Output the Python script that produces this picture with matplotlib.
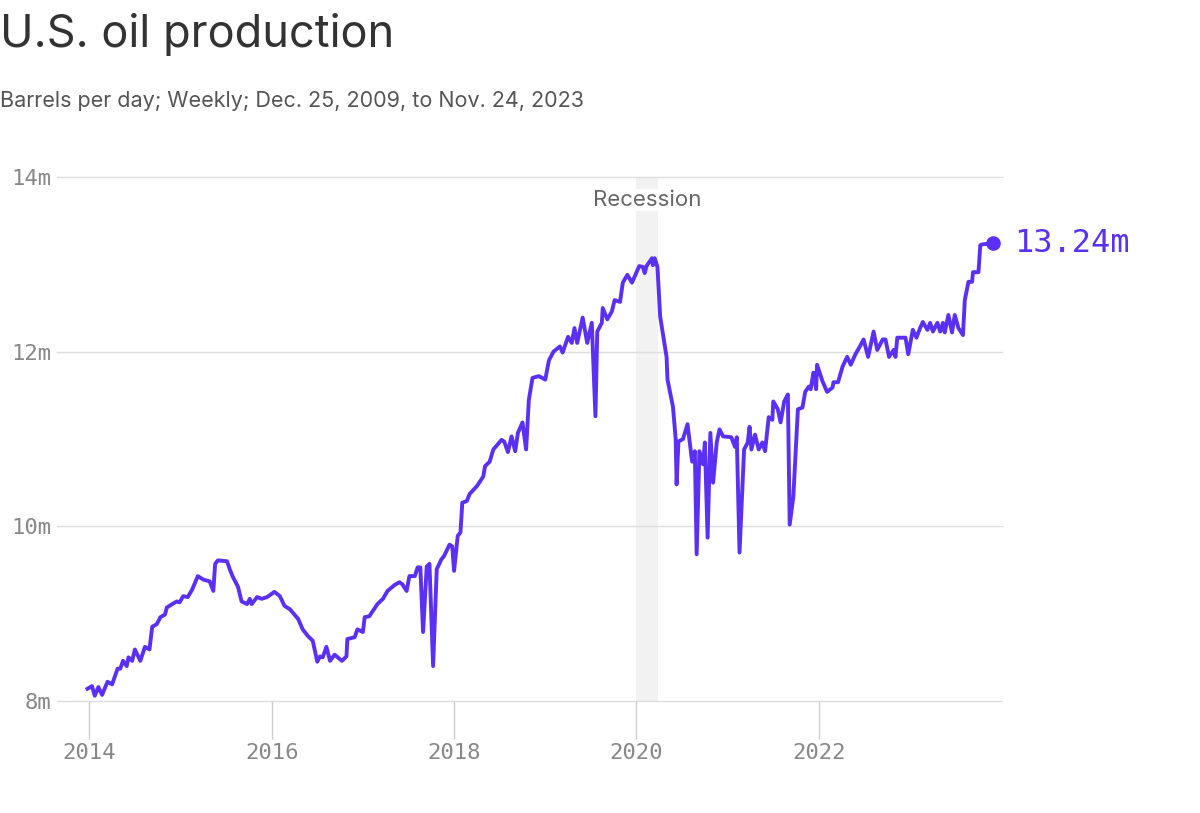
import matplotlib.pyplot as plt

# weekly U.S. crude production, millions of barrels per day
years = [
    2013.98, 2014.03, 2014.06, 2014.10, 2014.14, 2014.20, 2014.25, 2014.31, 2014.34, 2014.37,
    2014.41, 2014.43, 2014.47, 2014.50, 2014.56, 2014.61, 2014.66, 2014.69, 2014.74, 2014.78,
    2014.83, 2014.85, 2014.91, 2014.96, 2014.99, 2015.03, 2015.08, 2015.13, 2015.19, 2015.25,
    2015.32, 2015.36, 2015.38, 2015.41, 2015.51, 2015.54, 2015.57, 2015.63, 2015.67, 2015.73,
    2015.76, 2015.78, 2015.84, 2015.89, 2015.95, 2016.03, 2016.09, 2016.14, 2016.20, 2016.29,
    2016.34, 2016.40, 2016.45, 2016.50, 2016.53, 2016.56, 2016.60, 2016.64, 2016.69, 2016.77,
    2016.82, 2016.83, 2016.91, 2016.94, 2017.00, 2017.02, 2017.07, 2017.16, 2017.22, 2017.27,
    2017.35, 2017.40, 2017.43, 2017.48, 2017.51, 2017.57, 2017.60, 2017.63, 2017.66, 2017.70,
    2017.73, 2017.77, 2017.81, 2017.86, 2017.89, 2017.95, 2017.98, 2018.00, 2018.04, 2018.07,
    2018.09, 2018.14, 2018.17, 2018.25, 2018.32, 2018.34, 2018.39, 2018.43, 2018.48, 2018.52,
    2018.55, 2018.59, 2018.63, 2018.67, 2018.70, 2018.75, 2018.79, 2018.82, 2018.86, 2018.93,
    2019.00, 2019.04, 2019.09, 2019.16, 2019.19, 2019.25, 2019.29, 2019.32, 2019.35, 2019.41,
    2019.46, 2019.51, 2019.55, 2019.57, 2019.62, 2019.63, 2019.68, 2019.73, 2019.76, 2019.82,
    2019.85, 2019.90, 2019.95, 2019.98, 2020.03, 2020.07, 2020.09, 2020.11, 2020.17, 2020.18,
    2020.20, 2020.23, 2020.26, 2020.33, 2020.34, 2020.40, 2020.43, 2020.44, 2020.46, 2020.51,
    2020.56, 2020.61, 2020.64, 2020.66, 2020.69, 2020.73, 2020.75, 2020.78, 2020.81, 2020.84,
    2020.88, 2020.91, 2020.95, 2021.04, 2021.08, 2021.10, 2021.13, 2021.18, 2021.22, 2021.24,
    2021.26, 2021.30, 2021.34, 2021.38, 2021.41, 2021.45, 2021.49, 2021.50, 2021.55, 2021.58,
    2021.62, 2021.66, 2021.68, 2021.72, 2021.77, 2021.82, 2021.85, 2021.89, 2021.91, 2021.94,
    2021.97, 2021.98, 2022.04, 2022.09, 2022.15, 2022.16, 2022.21, 2022.26, 2022.31, 2022.35,
    2022.40, 2022.45, 2022.49, 2022.54, 2022.60, 2022.64, 2022.70, 2022.73, 2022.77, 2022.82,
    2022.84, 2022.86, 2022.95, 2022.98, 2023.03, 2023.07, 2023.11, 2023.14, 2023.19, 2023.22,
    2023.25, 2023.30, 2023.33, 2023.36, 2023.38, 2023.42, 2023.46, 2023.49, 2023.53, 2023.58,
    2023.60, 2023.64, 2023.68, 2023.69, 2023.75, 2023.77, 2023.80, 2023.91,
]
production = [
    8.14, 8.17, 8.06, 8.16, 8.07, 8.22, 8.19, 8.37, 8.37, 8.46,
    8.40, 8.50, 8.46, 8.59, 8.46, 8.62, 8.59, 8.85, 8.88, 8.96,
    8.99, 9.07, 9.11, 9.14, 9.13, 9.20, 9.19, 9.28, 9.43, 9.39,
    9.37, 9.26, 9.57, 9.61, 9.60, 9.51, 9.43, 9.31, 9.14, 9.11,
    9.17, 9.11, 9.19, 9.17, 9.19, 9.25, 9.20, 9.09, 9.05, 8.94,
    8.82, 8.74, 8.69, 8.45, 8.51, 8.50, 8.62, 8.46, 8.53, 8.46,
    8.51, 8.71, 8.73, 8.82, 8.79, 8.96, 8.97, 9.11, 9.17, 9.26,
    9.33, 9.36, 9.34, 9.26, 9.43, 9.43, 9.53, 9.53, 8.79, 9.54,
    9.57, 8.40, 9.51, 9.62, 9.66, 9.79, 9.77, 9.49, 9.89, 9.93,
    10.27, 10.29, 10.37, 10.46, 10.57, 10.69, 10.74, 10.88, 10.94, 10.99,
    10.97, 10.85, 11.03, 10.86, 11.07, 11.19, 10.88, 11.45, 11.70, 11.72,
    11.68, 11.90, 12.00, 12.06, 11.99, 12.17, 12.10, 12.27, 12.10, 12.39,
    12.10, 12.33, 11.26, 12.23, 12.33, 12.50, 12.37, 12.46, 12.59, 12.57,
    12.79, 12.88, 12.79, 12.86, 12.98, 12.97, 12.90, 12.98, 13.07, 12.99,
    13.07, 12.97, 12.40, 11.94, 11.68, 11.37, 11.00, 10.48, 10.97, 11.00,
    11.17, 10.74, 10.86, 9.68, 10.86, 10.71, 10.96, 9.87, 11.07, 10.50,
    10.96, 11.11, 11.03, 11.02, 10.91, 11.02, 9.70, 10.88, 10.96, 11.14,
    10.88, 11.05, 10.88, 10.96, 10.86, 11.25, 11.22, 11.43, 11.34, 11.19,
    11.43, 11.51, 10.02, 10.34, 11.34, 11.36, 11.54, 11.60, 11.57, 11.76,
    11.57, 11.85, 11.66, 11.54, 11.59, 11.65, 11.65, 11.83, 11.94, 11.85,
    11.97, 12.06, 12.14, 11.94, 12.23, 12.02, 12.14, 12.14, 11.94, 12.02,
    11.94, 12.16, 12.16, 11.97, 12.25, 12.16, 12.27, 12.34, 12.25, 12.33,
    12.23, 12.33, 12.23, 12.33, 12.22, 12.42, 12.22, 12.42, 12.27, 12.19,
    12.59, 12.80, 12.80, 12.91, 12.91, 13.22, 13.23, 13.24,
]

recession = (2020.0, 2020.24)
x_ticks = [2014, 2016, 2018, 2020, 2022]
y_ticks = [8, 10, 12, 14]
y_labels = ["8m", "10m", "12m", "14m"]

PURPLE = "#5a30f5"
MONO = "DejaVu Sans Mono"
SANS = "Inter"

fig = plt.figure(figsize=(12, 8.13), dpi=100)
fig.patch.set_facecolor("white")

fig.text(0.0, 0.942, "U.S. oil production", fontsize=32.5, color="#333333",
         family=SANS, va="baseline", ha="left")
fig.text(0.0, 0.868, "Barrels per day; Weekly; Dec. 25, 2009, to Nov. 24, 2023",
         fontsize=15.5, color="#555555", family=SANS, va="baseline", ha="left")

ax = fig.add_axes([57 / 1200, 112 / 813, 945 / 1200, 524 / 813])
ax.set_xlim(2013.646, 2024.008)
ax.set_ylim(8, 14)

ax.axvspan(*recession, color="#f2f2f2", zorder=0, lw=0)
ax.text(sum(recession) / 2, 13.74, "Recession", ha="center", va="center",
        fontsize=16, color="#666666", family=SANS, zorder=1,
        bbox=dict(facecolor="white", edgecolor="none", boxstyle="square,pad=0.05"))

for y in y_ticks:
    ax.axhline(y, color="#dddddd", lw=1, zorder=0.5, clip_on=False)

ax.plot(years, production, color=PURPLE, lw=2.8, zorder=3, solid_joinstyle="round")
ax.plot(years[-1], production[-1], "o", color=PURPLE, ms=9.5, zorder=4)
ax.annotate(f"{production[-1]:.2f}m", xy=(years[-1], production[-1]),
            xytext=(15, 0), textcoords="offset points", va="center", ha="left",
            fontsize=23, color=PURPLE, family=MONO, annotation_clip=False)

ax.set_xticks(x_ticks)
ax.set_xticklabels([str(t) for t in x_ticks], family=MONO, fontsize=16, color="#888888")
ax.set_yticks(y_ticks)
ax.set_yticklabels(y_labels, family=MONO, fontsize=16, color="#888888")
ax.tick_params(axis="x", length=27, width=1, color="#cccccc", pad=3)
ax.tick_params(axis="y", length=0, pad=4)
for s in ax.spines.values():
    s.set_visible(False)
ax.set_facecolor("none")

fig.savefig("out.png", dpi=100)
